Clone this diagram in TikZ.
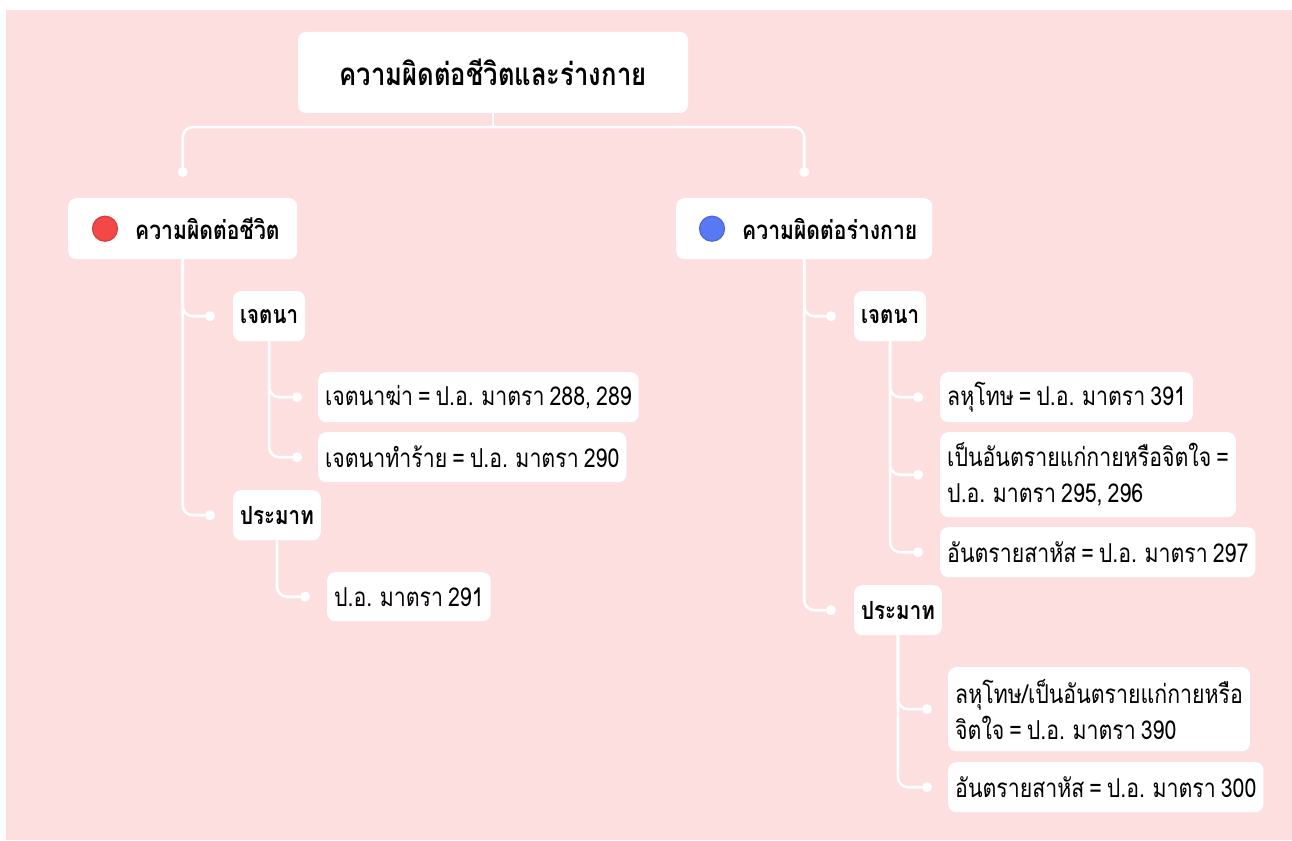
\documentclass[tikz,border=0pt]{standalone}
\usepackage{fontspec}
\setmainfont[Script=Thai, FakeStretch=0.82, WordSpace=0.7]{Loma}
\usetikzlibrary{positioning}
\definecolor{bgpink}{HTML}{FDDFE0}
\definecolor{dotred}{HTML}{F24848}
\definecolor{dotredline}{HTML}{DE3B3B}
\definecolor{dotblue}{HTML}{5878F4}
\definecolor{dotblueline}{HTML}{4A68DC}
\tikzset{
  box/.style={fill=white, rounded corners=8pt, inner xsep=7pt, inner ysep=3pt, align=left},
  leaf/.style={box, anchor=north west, minimum height=50pt, font=\fontsize{26}{36}\selectfont},
  head/.style={leaf, font=\bfseries\fontsize{25}{34}\selectfont},
  link/.style={draw=white, line width=2.6pt, rounded corners=10pt},
  knot/.style={circle, fill=white, inner sep=0pt, minimum size=10pt},
  bigdot/.style={circle, inner sep=0pt, minimum size=25pt, line width=1.2pt},
}
\begin{document}
\begin{tikzpicture}[x=1pt,y=-1pt]
  \useasboundingbox (0,0) rectangle (1292,840);
  \fill[bgpink] (6,10) rectangle (1292,840);
  % TOP: title
  \node[box, anchor=center, align=center, minimum width=390pt, minimum height=81pt,
        font=\bfseries\fontsize{31.3}{36}\selectfont] (title) at (493,72.5) {ความผิดต่อชีวิตและร่างกาย};
  % LEFT: ความผิดต่อชีวิต
  \node[box, anchor=north west, minimum width=229pt, minimum height=61pt] (life) at (68,198) {};
  \node[bigdot, fill=dotred, draw=dotredline] (lifedot) at ([xshift=37pt]life.west) {};
  \node[anchor=west, inner sep=0pt, font=\bfseries\fontsize{25.8}{30}\selectfont] (lifetext) at ([xshift=67pt]life.west) {ความผิดต่อชีวิต};
  \node[head] (lifeint) at (233,291) {เจตนา};
  \node[head] (lifeneg) at (233,490) {ประมาท};
  \node[leaf] (kill) at (318,372) {เจตนาฆ่า = ป.อ. มาตรา 288, 289};
  \node[leaf] (hurt) at (318,432) {เจตนาทำร้าย = ป.อ. มาตรา 290};
  \node[leaf, minimum height=49pt] (s291) at (327,572) {ป.อ. มาตรา 291};
  % RIGHT: ความผิดต่อร่างกาย
  \node[box, anchor=north west, minimum width=256pt, minimum height=61pt] (body) at (676,198) {};
  \node[bigdot, fill=dotblue, draw=dotblueline] (bodydot) at ([xshift=36pt]body.west) {};
  \node[anchor=west, inner sep=0pt, font=\bfseries\fontsize{25.8}{30}\selectfont] (bodytext) at ([xshift=66pt]body.west) {ความผิดต่อร่างกาย};
  \node[head] (bodyint) at (854,291) {เจตนา};
  \node[head] (bodyneg) at (854,585) {ประมาท};
  \node[leaf] (s391) at (940,372) {ลหุโทษ = ป.อ. มาตรา 391};
  \node[leaf, minimum height=85pt] (s295) at (940,432) {เป็นอันตรายแก่กายหรือจิตใจ =\\ป.อ. มาตรา 295, 296};
  \node[leaf] (s297) at (940,527) {อันตรายสาหัส = ป.อ. มาตรา 297};
  \node[leaf, minimum height=84pt] (s390) at (948,667) {ลหุโทษ/เป็นอันตรายแก่กายหรือ\\จิตใจ = ป.อ. มาตรา 390};
  \node[leaf] (s300) at (948,762) {อันตรายสาหัส = ป.อ. มาตรา 300};
  % junction dots
  \coordinate (split) at ([yshift=-14pt]title.south);
  \node[knot] (klife) at ([yshift=26pt]life.north) {};
  \node[knot] (kbody) at ([yshift=26pt]body.north) {};
  \node[knot] (klifeint) at ([xshift=-23pt]lifeint.west) {};
  \node[knot] (klifeneg) at ([xshift=-23pt]lifeneg.west) {};
  \node[knot] (kkill) at ([xshift=-21pt]kill.west) {};
  \node[knot] (khurt) at ([xshift=-21pt]hurt.west) {};
  \node[knot] (k291) at ([xshift=-22pt]s291.west) {};
  \node[knot] (kbodyint) at ([xshift=-23pt]bodyint.west) {};
  \node[knot] (kbodyneg) at ([xshift=-23pt]bodyneg.west) {};
  \node[knot] (k391) at ([xshift=-22pt]s391.west) {};
  \node[knot] (k295) at ([xshift=-22pt]s295.west) {};
  \node[knot] (k297) at ([xshift=-22pt]s297.west) {};
  \node[knot] (k390) at ([xshift=-21pt]s390.west) {};
  \node[knot] (k300) at ([xshift=-21pt]s300.west) {};
  % connectors
  \draw[link] (title.south) -- (split);
  \draw[link] (split) -| (klife);
  \draw[link] (split) -| (kbody);
  \draw[link] (life.south) |- (klifeint);
  \draw[link] (life.south) |- (klifeneg);
  \draw[link] (lifeint.south) |- (kkill);
  \draw[link] (lifeint.south) |- (khurt);
  \draw[link] (lifeneg.south) |- (k291);
  \draw[link] (body.south) |- (kbodyint);
  \draw[link] (body.south) |- (kbodyneg);
  \draw[link] (bodyint.south) |- (k391);
  \draw[link] (bodyint.south) |- (k295);
  \draw[link] (bodyint.south) |- (k297);
  \draw[link] (bodyneg.south) |- (k390);
  \draw[link] (bodyneg.south) |- (k300);
\end{tikzpicture}
\end{document}
